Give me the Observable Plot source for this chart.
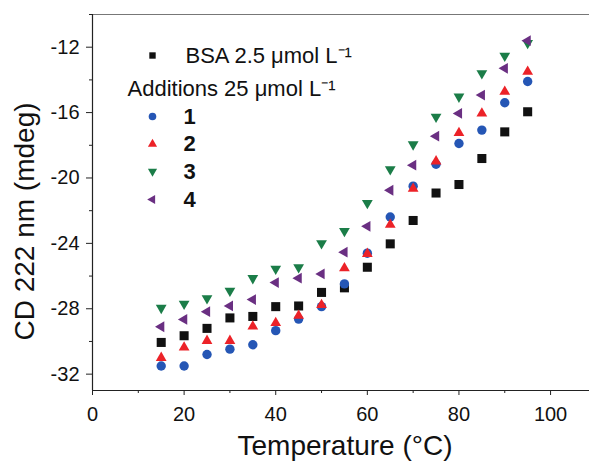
<!DOCTYPE html>
<html><head><meta charset="utf-8">
<script src="https://cdn.jsdelivr.net/npm/d3@7"></script>
<script src="https://cdn.jsdelivr.net/npm/@observablehq/plot@0.6"></script>
<style>body{margin:0;background:#fff}</style>
</head><body><div id="chart"></div>
<script>
// ---- data ----
const temps = [15,20,25,30,35,40,45,50,55,60,65,70,75,80,85,90,95];
const bsa  = [-30.06,-29.65,-29.2,-28.56,-28.47,-27.87,-27.83,-27.0,-26.72,-25.46,-24.03,-22.6,-20.92,-20.4,-18.81,-17.18,-15.95];
const add1 = [-31.5,-31.5,-30.8,-30.47,-30.2,-29.34,-28.63,-27.87,-26.48,-24.6,-22.39,-20.5,-19.16,-17.89,-17.07,-15.4,-14.1];
const add2 = [-31.0,-30.37,-29.96,-29.96,-29.08,-28.87,-28.42,-27.77,-25.52,-24.64,-22.86,-20.65,-18.98,-17.24,-16.05,-14.72,-13.5];
const add3 = [-27.95,-27.7,-27.36,-26.9,-26.13,-25.56,-25.46,-24.0,-23.25,-21.53,-19.47,-17.95,-16.26,-15.03,-13.6,-12.53,-11.75];
const add4 = [-29.1,-28.65,-28.18,-27.83,-27.44,-26.4,-26.13,-25.87,-24.54,-22.96,-20.75,-19.22,-17.44,-16.05,-14.93,-13.29,-11.6];
const seriesNames = ["BSA 2.5 μmol L⁻¹","1","2","3","4"];
const seriesValues = [bsa, add1, add2, add3, add4];
const additionsTitle = "Additions 25 μmol L⁻¹";
const xTicks = [0,20,40,60,80,100];
const xMinor = [10,30,50,70,90];
const yTicks = [-32,-28,-24,-20,-16,-12];
const yMinor = [-30,-26,-22,-18,-14,-10];
const xTitle = "Temperature (°C)";
const yTitle = "CD 222 nm (mdeg)";

// ---- styles ----
const colors = ["#111111","#2556b5","#ec2228","#1b7d48","#6a2f82"];
const sqrt3 = Math.sqrt(3);
const triDown = {draw(ctx, size){ const y = -Math.sqrt(size/(sqrt3*3));
  ctx.moveTo(0,-y*2); ctx.lineTo(-sqrt3*y, y); ctx.lineTo(sqrt3*y, y); ctx.closePath(); }};
const triLeft = {draw(ctx, size){ const y = -Math.sqrt(size/(sqrt3*3));
  ctx.moveTo(y*2,0); ctx.lineTo(-y, -sqrt3*y); ctx.lineTo(-y, sqrt3*y); ctx.closePath(); }};
const symbols = [d3.symbolSquare, d3.symbolCircle, d3.symbolTriangle, triDown, triLeft];
const rData = [5.1, 4.7, 4.0, 4.0, 4.0];
const rLegend = [3.6, 3.8, 3.4, 3.4, 3.4];
const fmt = d => String(d);

const font = "'Liberation Sans', Arial, Helvetica, sans-serif";
const marks = [];
// frame lines
marks.push(Plot.ruleY([-10], {stroke:"#777", strokeWidth:1.2}));
marks.push(Plot.ruleY([-33], {stroke:"#222", strokeWidth:1.2}));
marks.push(Plot.ruleX([0], {stroke:"#222", strokeWidth:1.2}));
// axes
marks.push(Plot.axisX(xTicks, {tickSize:5, tickPadding:11, fontSize:20, label:null, stroke:"#222", tickFormat: fmt}));
marks.push(Plot.axisX(xMinor, {tickSize:3, text:null, label:null, stroke:"#222"}));
marks.push(Plot.axisY(yTicks, {tickSize:6, tickPadding:7, fontSize:20, label:null, stroke:"#222", tickFormat: fmt}));
marks.push(Plot.axisY(yMinor, {tickSize:3, text:null, label:null, stroke:"#222"}));
// titles
marks.push(Plot.text([xTitle], {text:d=>d, frameAnchor:"bottom", textAnchor:"middle", lineAnchor:"middle", dx:4, dy:56, fontSize:28, fill:"#111"}));
marks.push(Plot.text([yTitle], {text:d=>d, frameAnchor:"left", textAnchor:"middle", lineAnchor:"middle", rotate:-90, dx:-67, dy:19, fontSize:28, fill:"#111"}));
// data
seriesValues.forEach((vals, s) => {
  const rows = temps.map((t,i) => ({t, v: vals[i]}));
  marks.push(Plot.dot(rows, {x:"t", y:"v", symbol: symbols[s], r: rData[s], fill: colors[s], stroke:"none"}));
});
// legend
const legendRowDy = [41, 102, 129.5, 157, 185];
seriesValues.forEach((vals, s) => {
  marks.push(Plot.dot([0], {frameAnchor:"top-left", dx:60, dy:legendRowDy[s], symbol: symbols[s], r: rLegend[s], fill: colors[s], stroke:"none"}));
  marks.push(Plot.text([seriesNames[s]], {text:d=>d, frameAnchor:"top-left", dx: s===0 ? 93 : 91, dy: legendRowDy[s],
    textAnchor:"start", lineAnchor:"middle", fontSize:22, fontWeight: s===0 ? "normal" : "bold", fill:"#111"}));
});
marks.push(Plot.text([additionsTitle], {text:d=>d, frameAnchor:"top-left", dx:35, dy:74, textAnchor:"start", lineAnchor:"middle", fontSize:22, fill:"#111"}));

const chart = Plot.plot({
  width: 589, height: 469,
  marginLeft: 92, marginRight: 0, marginTop: 14, marginBottom: 79,
  x: {domain:[0,108.5], label:null},
  y: {domain:[-33,-10], label:null},
  style: {fontFamily: font, background:"#fff", color:"#111", overflow:"visible"},
  marks
});
document.getElementById("chart").appendChild(chart);
</script>
</body></html>
